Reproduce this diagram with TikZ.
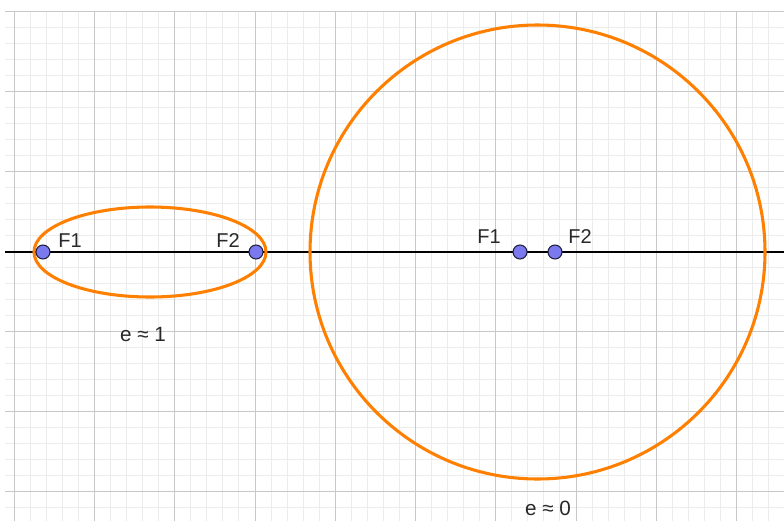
\documentclass[tikz,border=0pt]{standalone}
\usepackage{fontspec}
\setmainfont{Liberation Sans}
\begin{document}
\begin{tikzpicture}[x=0.75pt,y=-0.75pt,
  minorgrid/.style={draw={rgb,255:red,236;green,236;blue,236},line width=0.75pt},
  majorgrid/.style={draw={rgb,255:red,200;green,200;blue,200},line width=0.9pt},
  axisline/.style={draw=black,line width=0.9pt},
  conic/.style={draw={rgb,255:red,255;green,128;blue,0},line width=2.3pt},
  pt/.style={circle,draw={rgb,255:red,30;green,30;blue,60},line width=0.8pt,fill={rgb,255:red,122;green,122;blue,238},minimum size=10.5pt,inner sep=0pt},
  lbl/.style={font=\fontsize{15}{17}\selectfont,text={rgb,255:red,40;green,40;blue,40},inner sep=0pt},
  elbl/.style={font=\fontsize{15.5}{17}\selectfont,text={rgb,255:red,40;green,40;blue,40},inner sep=0pt}]
\useasboundingbox (0,0) rectangle (784,521);
\fill[white] (0,0) rectangle (784,521);
\begin{scope}
\clip (5,11) rectangle (784,521);
\foreach \s in {14.5,94.5,174.5,255.5,335.5,415.5,495.5,576.5,656.5,736.5} {
  \foreach \j in {1,...,4} {
    \pgfmathsetmacro{\xx}{floor(\s+16.05*\j)+0.5}
    \draw[minorgrid] (\xx,0) -- (\xx,521);
  }
}
\foreach \s in {11.5,91.5,171.5,251.5,331.5,411.5,491.5} {
  \foreach \j in {1,...,4} {
    \pgfmathsetmacro{\yy}{\s+16*\j}
    \draw[minorgrid] (0,\yy) -- (784,\yy);
  }
}
\foreach \s in {14.5,94.5,174.5,255.5,335.5,415.5,495.5,576.5,656.5,736.5} {
  \draw[majorgrid] (\s,0) -- (\s,521);
}
\foreach \s in {11.5,91.5,171.5,331.5,411.5,491.5} {
  \draw[majorgrid] (0,\s) -- (784,\s);
}
\end{scope}
\coordinate (axl) at (5,252);
\coordinate (axr) at (784,252);
\draw[axisline] (axl) -- (axr);
\draw[conic] (150,252) ellipse [x radius=116, y radius=45];
\draw[conic] (537.5,252) ellipse [x radius=227.5, y radius=227];
\node[pt] (f1a) at (43,252) {};
\node[pt] (f2a) at (256,252) {};
\node[pt] (f1b) at (520,252) {};
\node[pt] (f2b) at (555,252) {};
\node[lbl] (lf1a) at (70,241) {F1};
\node[lbl] (lf2a) at (228,241) {F2};
\node[lbl] (lf1b) at (489,237) {F1};
\node[lbl] (lf2b) at (580,237) {F2};
\node[elbl] (ea) at (143,334) {e ≈ 1};
\node[elbl] (eb) at (548,508) {e ≈ 0};
\end{tikzpicture}
\end{document}
